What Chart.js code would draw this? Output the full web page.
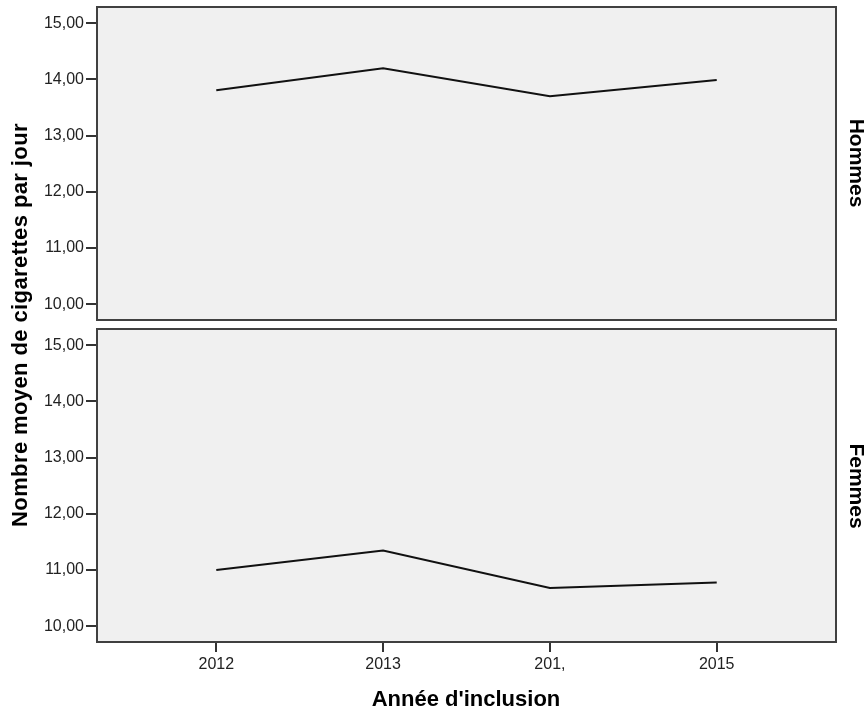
<!DOCTYPE html>
<html>
<head>
<meta charset="utf-8">
<script src="https://cdn.jsdelivr.net/npm/chart.js@4/dist/chart.umd.min.js"></script>
<style>
  body { margin: 0; background: #fff; width: 867px; height: 711px; position: relative; overflow: hidden; font-family: "Liberation Sans", Arial, sans-serif; }
  canvas { position: absolute; left: 0; }
  .lbl { position: absolute; font-weight: bold; font-size: 21px; line-height: 1; white-space: nowrap; color: #000; }
</style>
</head>
<body>
<canvas id="hommesChart" width="867" height="330" style="top:0"></canvas>
<canvas id="femmesChart" width="867" height="386" style="top:325px"></canvas>

<div class="lbl" style="left:20px; top:325px; font-size:22px; letter-spacing:0.4px; transform: translate(-50%,-50%) rotate(-90deg);">Nombre moyen de cigarettes par jour</div>
<div class="lbl" style="left:466px; top:699px; font-size:22px; transform: translate(-50%,-50%);">Année d'inclusion</div>
<div class="lbl" style="left:857px; top:163px; transform: translate(-50%,-50%) rotate(90deg);">Hommes</div>
<div class="lbl" style="left:857px; top:486px; transform: translate(-50%,-50%) rotate(90deg);">Femmes</div>

<script>
// data
const years = ['2012', '2013', '201,', '2015'];
const hommes = [13.81, 14.20, 13.70, 13.99];
const femmes = [11.00, 11.35, 10.68, 10.78];
const yTicks = [10, 11, 12, 13, 14, 15];

const FONT = '"Liberation Sans", Arial, sans-serif';

// grey panel with dark frame
const panelPlugin = {
  id: 'panel',
  beforeDraw(chart) {
    const a = chart.chartArea;
    const ctx = chart.ctx;
    ctx.save();
    ctx.fillStyle = '#f0f0f0';
    ctx.fillRect(a.left, a.top, a.right - a.left, a.bottom - a.top);
    ctx.restore();
  },
  afterDraw(chart) {
    const a = chart.chartArea;
    const ctx = chart.ctx;
    ctx.save();
    ctx.strokeStyle = '#404040';
    ctx.lineWidth = 2;
    ctx.strokeRect(a.left, a.top, a.right - a.left, a.bottom - a.top);
    ctx.restore();
  }
};

function makePanel(id, values, showX, padding, xHeight) {
  new Chart(document.getElementById(id), {
    type: 'line',
    data: {
      datasets: [{
        data: values.map((v, i) => ({ x: i, y: v })),
        borderColor: '#111',
        borderWidth: 2,
        pointRadius: 0,
        tension: 0,
        fill: false
      }]
    },
    options: {
      responsive: false,
      animation: false,
      layout: { padding: padding },
      plugins: { legend: { display: false }, tooltip: { enabled: false } },
      scales: {
        x: {
          type: 'linear',
          display: showX,
          min: -0.715,
          max: 3.715,
          afterBuildTicks: function(scale) {
            scale.ticks = years.map((y, i) => ({ value: i }));
          },
          afterFit: function(scale) {
            scale.height = xHeight;
            scale.paddingLeft = 0;
            scale.paddingRight = 0;
          },
          ticks: {
            callback: function(value) { return years[value]; },
            font: { size: 16, family: FONT },
            color: '#222',
            padding: 3,
            maxRotation: 0
          },
          grid: { drawOnChartArea: false, drawTicks: true, tickLength: 10, color: '#333', lineWidth: 2 },
          border: { display: false }
        },
        y: {
          min: 9.72,
          max: 15.29,
          afterBuildTicks: function(scale) {
            scale.ticks = yTicks.map(v => ({ value: v }));
          },
          afterFit: function(scale) {
            scale.width = 97;
            scale.paddingTop = 0;
            scale.paddingBottom = 0;
          },
          ticks: {
            callback: function(value) { return value.toFixed(2).replace('.', ','); },
            font: { size: 16, family: FONT },
            color: '#222',
            padding: 2
          },
          grid: { drawOnChartArea: false, drawTicks: true, tickLength: 11, color: '#333', lineWidth: 2 },
          border: { display: false }
        }
      }
    },
    plugins: [panelPlugin]
  });
}

makePanel('hommesChart', hommes, false, { top: 7, right: 31, bottom: 10, left: 0 }, 0);
makePanel('femmesChart', femmes, true, { top: 4, right: 31, bottom: 0, left: 0 }, 69);
</script>
</body>
</html>
